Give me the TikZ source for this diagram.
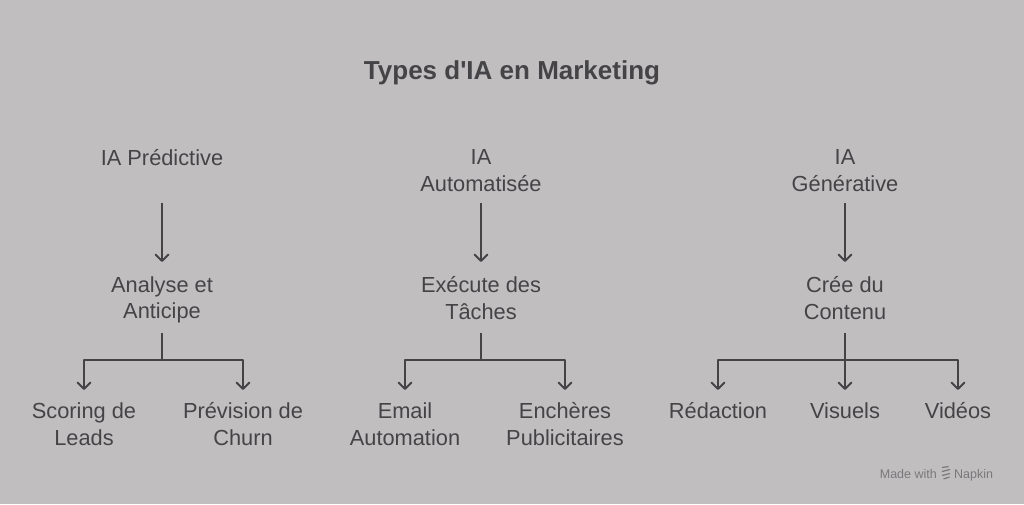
\documentclass[tikz,border=0pt]{standalone}
\usepackage{fontspec}
\setmainfont{Liberation Sans}
\usepackage{tikz}
\usetikzlibrary{arrows.meta,calc}
\definecolor{bg_grey}{RGB}{193, 190, 192}
\definecolor{ink}{RGB}{68, 68, 70}
\definecolor{faint}{RGB}{122, 120, 122}
\tikzstyle{tt}=[font=\fontsize{26}{30}\selectfont\bfseries,text=ink,inner sep=0pt]
\tikzstyle{tx}=[font=\fontsize{21.8}{26.5}\selectfont,text=ink,align=center,inner sep=0pt]
\tikzstyle{ln}=[draw=ink,line width=1.9pt,line join=round]
\tikzstyle{ar}=[ln,-{Straight Barb[length=6.5pt,width=13pt,round]}]
\tikzstyle{none}=[]

\begin{document}
\begin{tikzpicture}[x=1pt,y=-1pt]
            \fill [bg_grey] (0,0) rectangle (1024,504);
            \useasboundingbox (0,0) rectangle (1024,504);
            \node [style=tt] (0) at (512, 73) {Types d\textquotesingle IA en Marketing};
            \node [style=tx] (1) at (162, 158) {IA Prédictive};
            \node [style=tx] (2) at (481, 170.5) {IA\\Automatisée};
            \node [style=tx] (3) at (845, 170.5) {IA\\Générative};
            \node [style=tx] (4) at (162, 300) {Analyse et\\Anticipe};
            \node [style=tx] (5) at (481, 298) {Exécute des\\Tâches};
            \node [style=tx] (6) at (845, 298) {Crée du\\Contenu};
            \node [style=tx] (7) at (84, 424) {Scoring de\\Leads};
            \node [style=tx] (8) at (243, 424) {Prévision de\\Churn};
            \node [style=tx] (9) at (405, 424) {Email\\Automation};
            \node [style=tx] (10) at (565, 424) {Enchères\\Publicitaires};
            \node [style=tx] (11) at (718, 411) {Rédaction};
            \node [style=tx] (12) at (845, 411) {Visuels};
            \node [style=tx] (13) at (958, 411) {Vidéos};
            \draw [style=ar,shorten <=45pt,shorten >=38pt] (1.center) to (4.center);
            \draw [style=ar,shorten <=32.5pt,shorten >=36pt] (2.center) to (5.center);
            \draw [style=ar,shorten <=32.5pt,shorten >=36pt] (3.center) to (6.center);
            \draw [style=ar] ([yshift=-33pt]4.center) |- ([yshift=64pt]7.center) -- ([yshift=34pt]7.center);
            \draw [style=ar] ([yshift=-33pt]4.center) |- ([yshift=64pt]8.center) -- ([yshift=34pt]8.center);
            \draw [style=ar] ([yshift=-35pt]5.center) |- ([yshift=64pt]9.center) -- ([yshift=34pt]9.center);
            \draw [style=ar] ([yshift=-35pt]5.center) |- ([yshift=64pt]10.center) -- ([yshift=34pt]10.center);
            \draw [style=ar] ([yshift=-35pt]6.center) |- ([yshift=51pt]11.center) -- ([yshift=21pt]11.center);
            \draw [style=ar,shorten <=35pt,shorten >=21pt] (6.center) to (12.center);
            \draw [style=ar] ([yshift=-35pt]6.center) |- ([yshift=51pt]13.center) -- ([yshift=21pt]13.center);
            % footer
            \node [font=\fontsize{12.5}{14}\selectfont,text=faint,anchor=base east,inner sep=0pt] (14) at (937, 478) {Made with};
            \node [font=\fontsize{12.5}{14}\selectfont,text=faint,anchor=base west,inner sep=0pt] (15) at (954, 478) {Napkin};
            \draw [faint,line width=1.2pt] (942,467.5) -- (948.5,466.5) (942,471.5) -- (950,469.5) (942,475.5) -- (950,473.5) (943.5,479) -- (949.5,477);
    \end{tikzpicture}
\end{document}
